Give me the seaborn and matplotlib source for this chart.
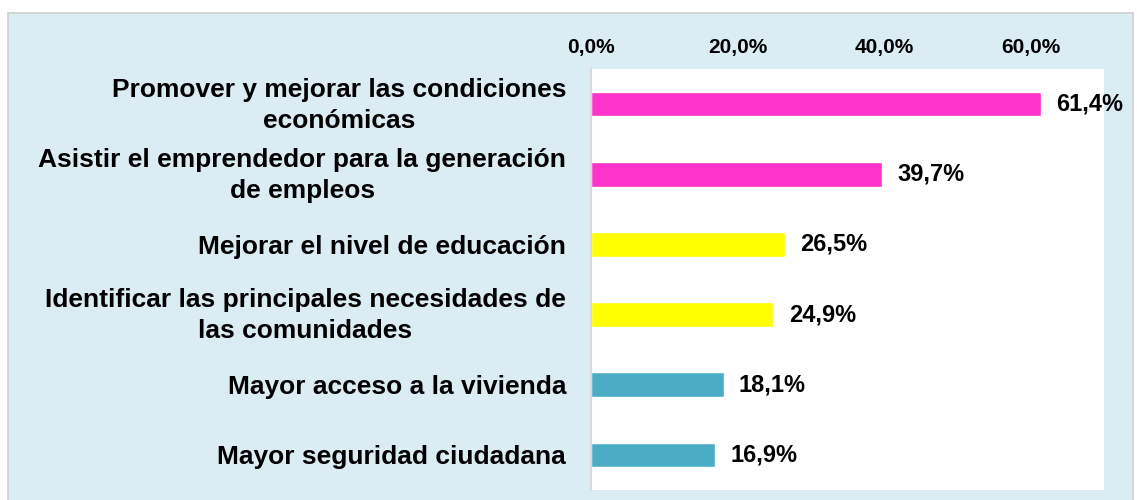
import matplotlib
matplotlib.use('Agg')
import matplotlib.pyplot as plt
import matplotlib.transforms as mtransforms
import seaborn as sns
import pandas as pd
from matplotlib.patches import Rectangle

categorias = [
    'Promover y mejorar las condiciones\neconómicas',
    'Asistir el emprendedor para la generación\nde empleos',
    'Mejorar el nivel de educación',
    'Identificar las principales necesidades de\nlas comunidades',
    'Mayor acceso a la vivienda',
    'Mayor seguridad ciudadana',
]
valores = [61.4, 39.7, 26.5, 24.9, 18.1, 16.9]
colores = ['#FF33CC', '#FF33CC', '#FFFF00', '#FFFF00', '#4BACC6', '#4BACC6']
ticks = [0, 20, 40, 60]

df = pd.DataFrame({'categoria': categorias, 'valor': valores})

sns.set_style('white')
plt.rcParams['font.family'] = ['Liberation Sans', 'DejaVu Sans']
plt.rcParams['text.color'] = 'black'
plt.rcParams['xtick.color'] = 'black'
plt.rcParams['ytick.color'] = 'black'

fig = plt.figure(figsize=(11.37, 5), dpi=100)
fig.patch.set_facecolor('white')
fig.patches.append(Rectangle((8 / 1137, -0.01), 1125 / 1137, 1 - 13 / 500 + 0.01,
                             transform=fig.transFigure, facecolor='#DAEDF3',
                             edgecolor='#D0D0D0', linewidth=1.2, zorder=-5))

ax = fig.add_axes([591 / 1137, 1 - 490 / 500, (1104 - 591) / 1137, (490 - 69) / 500])
ax.set_zorder(2)
ax.set_facecolor('white')
sns.barplot(data=df, x='valor', y='categoria', hue='categoria', palette=colores,
            legend=False, width=0.35, ax=ax, saturation=1)

for cont in ax.containers:
    ax.bar_label(cont, labels=[f"{v.get_width():.1f}".replace('.', ',') + '%' for v in cont],
                 padding=11, fontsize=17, fontweight='bold', color='black')

ax.set_xlim(0, 70)
ax.set_xticks(ticks)
ax.set_xticklabels([f"{t:.1f}".replace('.', ',') + '%' for t in ticks],
                   fontsize=15, fontweight='bold')
ax.xaxis.tick_top()
ax.tick_params(axis='x', length=0, pad=9)
ax.tick_params(axis='y', length=0, pad=18)

# las etiquetas de dos líneas quedan un poco bajas, se suben unos píxeles
subir = mtransforms.ScaledTranslation(0, 5 / 100, fig.dpi_scale_trans)
for tick in ax.yaxis.get_major_ticks():
    lbl = tick.label1
    lbl.set_fontsize(19)
    lbl.set_fontweight('bold')
    lbl.set_linespacing(1.38)
    lbl.set_horizontalalignment('right')
    lbl.set_multialignment('center')
    if '\n' in lbl.get_text():
        lbl.set_transform(lbl.get_transform() + subir)
ax.set_xlabel('')
ax.set_ylabel('')
for s in ['top', 'right', 'bottom']:
    ax.spines[s].set_visible(False)
ax.spines['left'].set_color('#D9D9D9')
ax.spines['left'].set_linewidth(1.5)

plt.savefig('out.png', dpi=100)
plt.close()
